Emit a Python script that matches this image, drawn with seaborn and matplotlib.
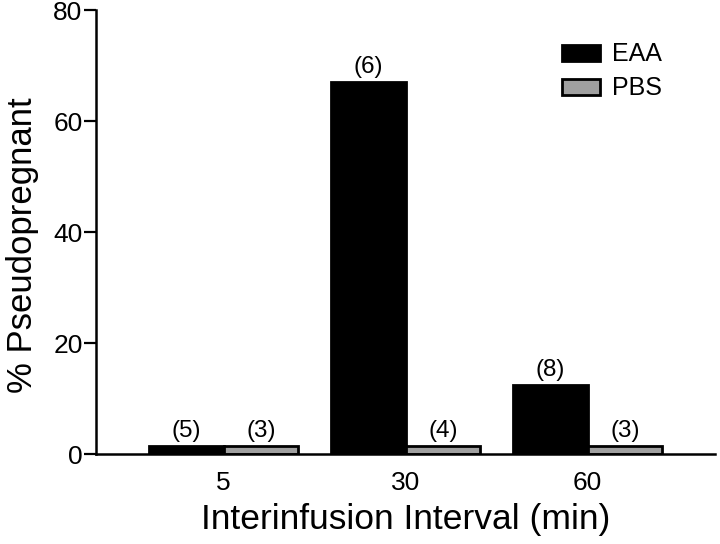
import pandas as pd
import seaborn as sns
import matplotlib.pyplot as plt

# values (near-zero groups drawn as a thin bar)
intervals = ['5', '30', '60']
eaa_pct = [1.5, 67.0, 12.5]
pbs_pct = [1.5, 1.5, 1.5]
eaa_n = ['(5)', '(6)', '(8)']
pbs_n = ['(3)', '(4)', '(3)']

df = pd.DataFrame({
    'interval': intervals * 2,
    'pct': eaa_pct + pbs_pct,
    'group': ['EAA'] * 3 + ['PBS'] * 3,
})

sns.set_style('ticks')
plt.rcParams['font.family'] = ['Liberation Sans', 'DejaVu Sans']
# pure black text and axes like the original figure
for key in ['text.color', 'axes.labelcolor', 'xtick.color', 'ytick.color', 'axes.edgecolor']:
    plt.rcParams[key] = 'black'

fig = plt.figure(figsize=(7.2, 5.44), dpi=100)
ax = fig.add_axes([0.133, 0.165, 0.860, 0.816])

sns.barplot(data=df, x='interval', y='pct', hue='group', order=intervals,
            palette={'EAA': 'black', 'PBS': '#a0a0a0'}, width=0.82,
            edgecolor='black', linewidth=2, ax=ax)

for cont, labs in zip(ax.containers, [eaa_n, pbs_n]):
    ax.bar_label(cont, labels=labs, padding=3, fontsize=17.5)

ax.set_ylim(0, 80)
ax.set_xlim(-0.703, 2.70)
ax.set_yticks([0, 20, 40, 60, 80])
sns.despine(ax=ax)
ax.spines['left'].set_linewidth(1.8)
ax.spines['bottom'].set_linewidth(1.8)
ax.tick_params(axis='y', length=8.5, width=1.6, labelsize=19, pad=1)
ax.tick_params(axis='x', length=0, labelsize=19, pad=12)
ax.set_xlabel('Interinfusion Interval (min)', fontsize=25.5, labelpad=6)
ax.set_ylabel('% Pseudopregnant', fontsize=25, labelpad=4)
ax.yaxis.set_label_coords(-0.092, 0.47)

ax.legend(title=None, frameon=False, loc='upper right', fontsize=18,
          bbox_to_anchor=(0.92, 0.922), bbox_transform=fig.transFigure,
          borderpad=0, borderaxespad=0, handlelength=1.5, handleheight=0.6,
          handletextpad=0.5, labelspacing=0.4)

plt.savefig('out.png', dpi=100)
